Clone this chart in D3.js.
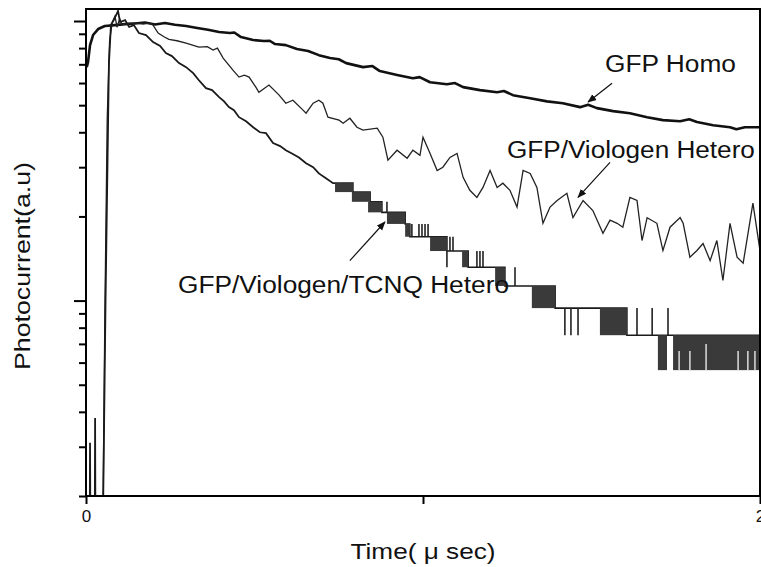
<!DOCTYPE html>
<html>
<head>
<meta charset="utf-8">
<script src="https://cdn.jsdelivr.net/npm/d3@7"></script>
<style>
  body { margin: 0; background: #fff; }
  text { font-family: Arial, "Liberation Sans", sans-serif; fill: #111; }
</style>
</head>
<body>
<svg id="svg" width="761" height="567"></svg>
<script>
// time in micro seconds, photocurrent in a.u. (log axis)
var homoData = [[0,6.95],[0.003,6.9],[0.006,7.13],[0.012,8.2],[0.021,8.91],[0.036,9.36],[0.056,9.6],[0.086,9.67],[0.116,9.75],
  [0.145,9.8],[0.175,9.88],[0.205,9.72],[0.234,9.84],[0.264,9.7],[0.297,9.6],[0.33,9.44],[0.362,9.3],[0.395,9.13],
  [0.427,9.06],[0.44,9.1],[0.46,8.76],[0.496,8.55],[0.528,8.48],[0.545,8.5],[0.561,8.27],[0.593,8.2],[0.626,7.94],[0.659,7.81],
  [0.691,7.55],[0.724,7.37],[0.75,7.3],[0.772,7.07],[0.822,6.84],[0.85,6.9],[0.872,6.62],[0.923,6.41],[0.97,6.24],[0.99,6.3],[1.021,6.04],
  [1.071,5.94],[1.095,6.0],[1.119,5.8],[1.169,5.66],[1.22,5.56],[1.24,5.62],[1.267,5.43],[1.318,5.29],[1.368,5.16],[1.415,5.08],
  [1.466,4.92],[1.49,5.02],[1.516,4.88],[1.564,4.76],[1.614,4.68],[1.665,4.53],[1.712,4.42],[1.763,4.38],[1.79,4.45],[1.813,4.35],
  [1.861,4.24],[1.911,4.17],[1.93,4.1],[1.955,4.17],[2.0,4.17]];

var viologenData = [[0,0.15],[0.05,0.15],[0.056,0.9],[0.063,4.5],[0.07,8.5],[0.078,9.9],[0.086,10.4],[0.092,9.5],
  [0.1,10.2],[0.107,9.7],[0.125,9.8],[0.148,9.84],[0.17,9.75],[0.19,9.84],[0.199,9.67],[0.214,9.06],[0.23,8.8],
  [0.246,8.6],[0.27,8.5],[0.297,8.34],[0.335,8.07],[0.36,8.1],[0.377,7.87],[0.39,8.0],[0.407,7.37],[0.436,6.67],
  [0.454,6.3],[0.47,6.4],[0.484,6.3],[0.504,5.8],[0.513,5.56],[0.543,5.9],[0.573,5.43],[0.593,5.08],[0.614,5.21],
  [0.644,4.8],[0.653,4.68],[0.674,5.08],[0.691,5.21],[0.703,5.08],[0.718,4.53],[0.751,4.42],[0.763,4.31],
  [0.783,4.49],[0.804,4.17],[0.822,4.07],[0.864,4.14],[0.881,3.84],[0.896,3.18],[0.923,3.45],[0.953,3.23],
  [0.97,3.45],[0.991,3.31],[1.0,3.84],[1.021,3.36],[1.042,2.92],[1.059,3.0],[1.08,3.25],[1.101,3.36],[1.119,2.76],
  [1.139,2.48],[1.16,2.34],[1.178,2.54],[1.199,2.92],[1.22,2.54],[1.237,2.63],[1.258,2.48],[1.279,2.16],[1.297,2.92],
  [1.318,2.85],[1.338,2.54],[1.356,1.89],[1.377,2.16],[1.398,2.28],[1.427,2.42],[1.445,1.98],[1.475,2.28],
  [1.504,2.1],[1.534,1.74],[1.555,1.94],[1.576,1.89],[1.593,1.83],[1.614,2.34],[1.635,2.28],[1.65,1.64],
  [1.665,1.98],[1.694,1.89],[1.712,1.51],[1.733,1.83],[1.763,1.98],[1.772,1.89],[1.792,1.43],[1.813,1.51],
  [1.831,1.6],[1.852,1.39],[1.872,1.64],[1.89,1.18],[1.911,1.89],[1.932,1.43],[1.95,1.36],[1.979,2.23],[2.0,1.51]];

// TCNQ trace: noisy start, then digitiser steps
var tcnqData = [[0,0.15],[0.011,0.15],[0.012,0.31],[0.013,0.15],[0.026,0.15],[0.027,0.38],[0.028,0.15],[0.05,0.15],
  [0.058,1.0],[0.068,7.0],[0.074,9.7],[0.083,10.1],[0.095,10.86],[0.101,9.92],[0.116,10.08],[0.128,9.52],
  [0.142,9.67],[0.157,9.06],[0.178,8.91],[0.199,8.41],[0.22,8.14],[0.237,7.68],[0.255,7.49],[0.276,7.07],
  [0.297,6.84],[0.318,6.51],[0.335,6.14],[0.356,5.75],[0.374,5.66],[0.395,5.34],[0.409,5.17],[0.424,4.92],
  [0.439,4.8],[0.454,4.53],[0.475,4.38],[0.496,4.17],[0.516,4.0],[0.534,3.97],[0.555,3.66],[0.576,3.57],
  [0.593,3.45],[0.611,3.36],[0.632,3.25],[0.653,3.1],[0.674,3.0],[0.691,2.85],[0.712,2.74],[0.733,2.63],[0.754,2.632]];
var tcnqSteps = [[0.754,2.632],[0.792,2.444],[0.843,2.256],[0.878,2.068],[0.947,1.88],[0.961,1.692],[1.071,1.504],
  [1.134,1.316],[1.243,1.128],[1.392,0.94],[1.605,0.752],[2.0,0.752]];
// [t start, t end, lower level, upper level] where the signal toggles fast
var tcnqBlocks = [[0.739,0.792,2.444,2.632],[0.789,0.843,2.256,2.444],[0.837,0.878,2.068,2.256],
  [0.893,0.947,1.88,2.068],[0.947,0.961,1.692,1.88],[1.021,1.071,1.504,1.692],[1.116,1.134,1.316,1.504],
  [1.214,1.243,1.128,1.316],[1.323,1.392,0.94,1.128],[1.525,1.605,0.752,0.94],[1.697,1.724,0.564,0.752],
  [1.742,2.0,0.564,0.752]];
// [t, lower, upper] single glitches
var tcnqSpikes = [[0.893,2.068,2.256],[0.967,1.692,1.88],[0.988,1.692,1.88],[0.997,1.692,1.88],[1.006,1.692,1.88],
  [1.015,1.692,1.88],[1.071,1.316,1.504],[1.08,1.504,1.692],[1.089,1.504,1.692],[1.16,1.316,1.504],
  [1.169,1.316,1.504],[1.178,1.316,1.504],[1.273,1.128,1.316],[1.421,0.752,0.94],[1.439,0.752,0.94],
  [1.46,0.752,0.94],[1.635,0.752,0.94],[1.68,0.752,0.94],[1.727,0.752,0.94]];
// [t, lower, upper] short stretches inside the last block where the signal stays high
var tcnqGaps = [[1.76,0.564,0.66],[1.792,0.564,0.66],[1.84,0.564,0.7],[1.935,0.564,0.66],[1.964,0.564,0.66],[1.985,0.564,0.66]];

var xTicks = [0, 1, 2];
var yMinor = [0.2,0.3,0.4,0.5,0.6,0.7,0.8,0.9,2,3,4,5,6,7,8,9];
var yMajor = [1, 10];

// label: text, t, value, width ; arrow: tail t,v -> tip t,v
var labels = [["GFP Homo",1.54,6.57,131],["GFP/Viologen Hetero",1.249,3.23,248],["GFP/Viologen/TCNQ Hetero",0.273,1.068,331]];
var arrows = [[1.561,5.99,1.49,5.13],[1.555,3.12,1.46,2.34],[0.783,1.39,0.887,1.91]];

var svg = d3.select("#svg"),
margin = {top: 9, right: 1, bottom: 71, left: 86},
width = +svg.attr("width") - margin.left - margin.right,
height = +svg.attr("height") - margin.top - margin.bottom,
g = svg.append("g").attr("transform", "translate(" + margin.left + "," + margin.top + ")");

var x = d3.scaleLinear().domain([0, 2]).range([0, width]);
var y = d3.scaleLog().domain([0.2, 11.04]).range([height, 0]);

svg.append("defs").append("clipPath").attr("id", "clip")
  .append("rect").attr("width", width).attr("height", height);

var line = d3.line().x(function(d) { return x(d[0]); }).y(function(d) { return y(d[1]); });
var stepLine = d3.line().curve(d3.curveStepAfter)
  .x(function(d) { return x(d[0]); }).y(function(d) { return y(d[1]); });

var plot = g.append("g").attr("clip-path", "url(#clip)");

plot.append("path").datum(homoData).attr("d", line)
  .attr("fill", "none").attr("stroke", "#111").attr("stroke-width", 2.6).attr("stroke-linejoin", "round");

plot.append("path").datum(viologenData).attr("d", line)
  .attr("fill", "none").attr("stroke", "#222").attr("stroke-width", 1.3);

plot.append("path").datum(tcnqData).attr("d", line)
  .attr("fill", "none").attr("stroke", "#1a1a1a").attr("stroke-width", 1.8);
plot.append("path").datum(tcnqSteps).attr("d", stepLine)
  .attr("fill", "none").attr("stroke", "#1a1a1a").attr("stroke-width", 1.6);

plot.selectAll(".blk").data(tcnqBlocks).enter().append("rect")
  .attr("class", "blk")
  .attr("x", function(d) { return x(d[0]); })
  .attr("y", function(d) { return y(d[3]); })
  .attr("width", function(d) { return x(d[1]) - x(d[0]); })
  .attr("height", function(d) { return y(d[2]) - y(d[3]); })
  .attr("fill", "#3a3a3a");

plot.selectAll(".gap").data(tcnqGaps).enter().append("line")
  .attr("class", "gap")
  .attr("x1", function(d) { return x(d[0]); }).attr("x2", function(d) { return x(d[0]); })
  .attr("y1", function(d) { return y(d[1]); }).attr("y2", function(d) { return y(d[2]); })
  .attr("stroke", "#ddd").attr("stroke-width", 1.5);

plot.selectAll(".spk").data(tcnqSpikes).enter().append("line")
  .attr("class", "spk")
  .attr("x1", function(d) { return x(d[0]); }).attr("x2", function(d) { return x(d[0]); })
  .attr("y1", function(d) { return y(d[1]); }).attr("y2", function(d) { return y(d[2]); })
  .attr("stroke", "#222").attr("stroke-width", 1.6);

// frame
g.append("rect").attr("width", width).attr("height", height)
  .attr("fill", "none").attr("stroke", "#000").attr("stroke-width", 2);

// axes
var xAxis = g.append("g")
  .attr("transform", "translate(0," + height + ")")
  .call(d3.axisBottom(x).tickValues(xTicks).tickSize(8).tickPadding(6)
    .tickFormat(function(d) { return d === 1 ? "" : d; }));
xAxis.select(".domain").remove();
xAxis.selectAll("line").attr("stroke-width", 2);
xAxis.selectAll("text").attr("font-size", 17).attr("font-family", "Arial, 'Liberation Sans', sans-serif");

var yMin = g.append("g").call(d3.axisLeft(y).tickValues(yMinor).tickSize(7).tickFormat(""));
var yMaj = g.append("g").call(d3.axisLeft(y).tickValues(yMajor).tickSize(12).tickFormat(""));
yMin.select(".domain").remove();
yMaj.select(".domain").remove();
yMin.selectAll("line").attr("stroke-width", 2);
yMaj.selectAll("line").attr("stroke-width", 2);

// annotations
g.selectAll(".lbl").data(labels).enter().append("text")
  .attr("class", "lbl")
  .attr("x", function(d) { return x(d[1]); })
  .attr("y", function(d) { return y(d[2]); })
  .attr("font-size", 23)
  .attr("textLength", function(d) { return d[3]; })
  .attr("lengthAdjust", "spacingAndGlyphs")
  .text(function(d) { return d[0]; });

svg.append("defs").append("marker")
  .attr("id", "head").attr("viewBox", "0 0 10 10").attr("refX", 9).attr("refY", 5)
  .attr("markerWidth", 9).attr("markerHeight", 9).attr("markerUnits", "userSpaceOnUse").attr("orient", "auto")
  .append("path").attr("d", "M0,1L10,5L0,9Z").attr("fill", "#111");

g.selectAll(".arr").data(arrows).enter().append("line")
  .attr("class", "arr")
  .attr("x1", function(d) { return x(d[0]); }).attr("y1", function(d) { return y(d[1]); })
  .attr("x2", function(d) { return x(d[2]); }).attr("y2", function(d) { return y(d[3]); })
  .attr("stroke", "#111").attr("stroke-width", 1.2)
  .attr("marker-end", "url(#head)");

// axis titles
svg.append("text")
  .attr("x", margin.left + width / 2)
  .attr("y", 559)
  .attr("text-anchor", "middle")
  .attr("font-size", 22)
  .attr("textLength", 145).attr("lengthAdjust", "spacingAndGlyphs")
  .text("Time( \u03bc sec)");

svg.append("text")
  .attr("transform", "translate(30,266) rotate(-90)")
  .attr("text-anchor", "middle")
  .attr("font-size", 22)
  .attr("textLength", 208).attr("lengthAdjust", "spacingAndGlyphs")
  .text("Photocurrent(a.u)");
</script>
</body>
</html>
